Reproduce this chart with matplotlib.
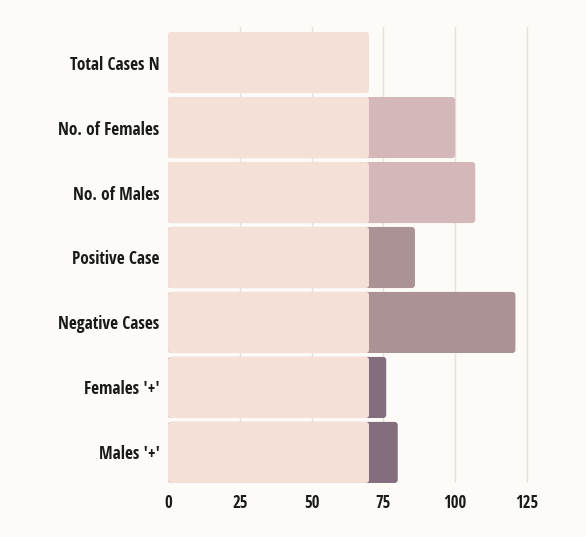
import matplotlib
matplotlib.use("Agg")
import matplotlib.pyplot as plt
from matplotlib import font_manager
from matplotlib.patches import FancyBboxPatch

categories = ["Total Cases N", "No. of Females", "No. of Males", "Positive Case",
              "Negative Cases", "Females '+'", "Males '+'"]
base = [70, 70, 70, 70, 70, 70, 70]
totals = [70, 100, 107, 86, 121, 76, 80]
bar_colors = ["#f5e0d8", "#d3b7b9", "#d3b7b9", "#ad9295", "#ad9295", "#836e7e", "#836e7e"]
xticks = [0, 25, 50, 75, 100, 125]

names = {f.name for f in font_manager.fontManager.ttflist}
font = "Open Sans Condensed" if "Open Sans Condensed" in names else "Open Sans"
plt.rcParams["font.family"] = font
plt.rcParams["font.weight"] = "bold"

bg = "#fdfbf7"
fig = plt.figure(figsize=(5.86, 5.37), dpi=100, facecolor=bg)
ax = fig.add_axes([0.2867, 0.1006, 0.686, 0.8491], facecolor=bg)

y = list(range(len(categories)))
h = 0.94


def rounded(bars, color, z):
    # swap the plain rectangles for ones with rounded corners
    for b in bars:
        x0, y0 = b.get_x(), b.get_y()
        w, hh = b.get_width(), b.get_height()
        b.remove()
        if w <= 0:
            continue
        p = FancyBboxPatch((x0, y0), w, hh, boxstyle="round,pad=0,rounding_size=1.1",
                           mutation_aspect=0.044, facecolor=color, edgecolor="none", zorder=z)
        ax.add_patch(p)


for i in range(len(categories)):
    if totals[i] > base[i]:
        bars = ax.barh(y[i], totals[i], height=h)
        rounded(bars, bar_colors[i], 2)
    bars = ax.barh(y[i], base[i], height=h)
    rounded(bars, "#f5e0d8", 3)

ax.set_xlim(0, 140)
ax.set_ylim(6.47, -0.547)
ax.set_yticks(y)
ax.set_yticklabels(categories, fontsize=12.4, fontweight="bold", color="#1a1a1a")
ax.set_xticks(xticks)
ax.set_xticklabels([str(t) for t in xticks], fontsize=12, fontweight="bold", color="#1a1a1a")
ax.tick_params(axis="y", length=0, pad=6)
ax.tick_params(axis="x", length=0, pad=8)
ax.xaxis.grid(True, color="#e6e1dd", linewidth=1)
ax.get_xgridlines()[0].set_visible(False)
ax.set_axisbelow(True)
for s in ax.spines.values():
    s.set_visible(False)

fig.savefig("out.png", dpi=100, facecolor=bg)
